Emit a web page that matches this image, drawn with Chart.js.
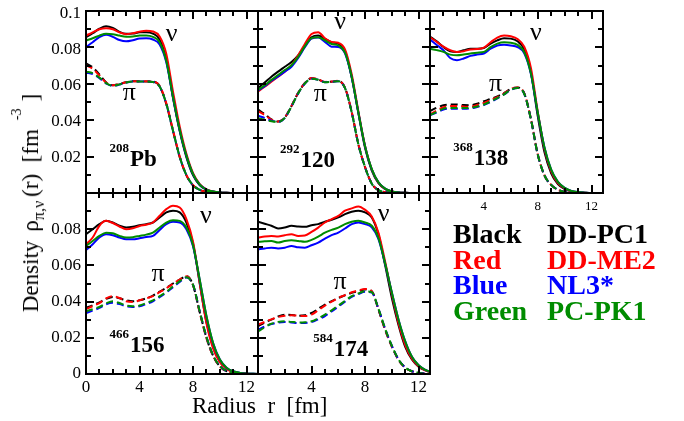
<!DOCTYPE html>
<html>
<head>
<meta charset="utf-8">
<script src="https://cdn.jsdelivr.net/npm/chart.js@4.4.0/dist/chart.umd.min.js"></script>
<style>
  html, body { margin: 0; padding: 0; background: #fff; }
  #page { position: relative; width: 684px; height: 421px; overflow: hidden;
          font-family: 'Liberation Serif', 'Times New Roman', serif; color: #000; }
  #page canvas { position: absolute; left: 0; top: 0; }
  .txt { position: absolute; white-space: pre; line-height: 1; }
  #ytitle { font-size: 23px; line-height: 23px; left: 32px; top: 203px;
            transform: translate(-50%, -50%) rotate(-90deg); }
  #ytitle .rho { margin-left: 9px; }
  #ytitle .sub { font-size: 16px; position: relative; top: 6px; }
  #ytitle .par { margin-left: 4px; }
  #ytitle .sup { font-size: 14px; position: relative; top: -17px; margin-left: 9px; }
  #ytitle .close { margin-left: 7px; }
  #xtitle { font-size: 23px; left: 192px; top: 394px; }
  .leg { font-size: 28px; font-weight: bold; line-height: 25.6px; top: 221px; }
</style>
</head>
<body>
<div id="page">
  <canvas id="pb208" width="684" height="421"></canvas>
  <canvas id="z120" width="684" height="421"></canvas>
  <canvas id="z138" width="684" height="421"></canvas>
  <canvas id="z156" width="684" height="421"></canvas>
  <canvas id="z174" width="684" height="421"></canvas>
  <canvas id="pb208-frame" width="684" height="421"></canvas>
  <canvas id="z120-frame" width="684" height="421"></canvas>
  <canvas id="z138-frame" width="684" height="421"></canvas>
  <canvas id="z156-frame" width="684" height="421"></canvas>
  <canvas id="z174-frame" width="684" height="421"></canvas>
  <div id="ytitle" class="txt">Density<span class="rho">ρ</span><span class="sub">π,ν</span><span class="par">(r)</span>  [fm<span class="sup">-3</span><span class="close">]</span></div>
  <div id="xtitle" class="txt">Radius  r  [fm]</div>
  <div class="txt leg" style="left:453px"><div style="color:#000">Black</div><div style="color:#ff0000">Red</div><div style="color:#0000ff">Blue</div><div style="color:#008c00">Green</div></div>
  <div class="txt leg" style="left:547px"><div style="color:#000">DD-PC1</div><div style="color:#ff0000">DD-ME2</div><div style="color:#0000ff">NL3*</div><div style="color:#008c00">PC-PK1</div></div>
</div>
<script>
const radius = [0, 0.5, 1, 1.5, 2, 2.5, 3, 3.5, 4, 4.5, 5, 5.5, 6, 6.5, 7, 7.5, 8, 8.5, 9, 9.5, 10, 10.5, 11, 11.5, 12, 12.5, 13];
const models = ['DD-PC1', 'DD-ME2', 'NL3*', 'PC-PK1'];
const modelColors = ['#000000', '#ff0000', '#0000ff', '#008c00'];
const xTickValues = [0, 4, 8, 12];
const xMinorValues = [0, 1, 2, 3, 4, 5, 6, 7, 8, 9, 10, 11, 12];
const yTickValues = [0, 0.02, 0.04, 0.06, 0.08, 0.1];
const yTickLabels = ['0', '0.02', '0.04', '0.06', '0.08', '0.1'];
const yMinorValues = [0, 0.01, 0.02, 0.03, 0.04, 0.05, 0.06, 0.07, 0.08, 0.09, 0.1];

// each list: DD-PC1, DD-ME2, NL3*, PC-PK1
const pb208Neutron = [
  [0.0868,0.0890,0.0915,0.0929,0.0920,0.0898,0.0887,0.0888,0.0895,0.0896,0.0888,0.0855,0.0745,0.0530,0.0345,0.0200,0.0098,0.0043,0.0018,0.0007,0.0003,0.0001,0,0,0,0,0],
  [0.0877,0.0895,0.0912,0.0918,0.0912,0.0895,0.0885,0.0890,0.0899,0.0904,0.0900,0.0872,0.0775,0.0565,0.0370,0.0218,0.0110,0.0049,0.0020,0.0008,0.0003,0.0001,0,0,0,0,0],
  [0.0813,0.0840,0.0868,0.0882,0.0870,0.0852,0.0845,0.0851,0.0861,0.0862,0.0855,0.0828,0.0728,0.0532,0.0350,0.0207,0.0104,0.0046,0.0019,0.0008,0.0003,0.0001,0,0,0,0,0],
  [0.0850,0.0862,0.0877,0.0887,0.0885,0.0877,0.0871,0.0872,0.0877,0.0878,0.0870,0.0840,0.0735,0.0535,0.0352,0.0208,0.0105,0.0047,0.0019,0.0008,0.0003,0.0001,0,0,0,0,0]
];
const pb208Proton = [
  [0.0722,0.0700,0.0660,0.0617,0.0600,0.0607,0.0617,0.0622,0.0622,0.0621,0.0620,0.0595,0.0495,0.0345,0.0200,0.0098,0.0042,0.0017,0.0007,0.0003,0.0001,0,0,0,0,0,0],
  [0.0712,0.0692,0.0655,0.0615,0.0600,0.0607,0.0617,0.0622,0.0622,0.0622,0.0621,0.0597,0.0500,0.0350,0.0204,0.0101,0.0044,0.0018,0.0007,0.0003,0.0001,0,0,0,0,0,0],
  [0.0670,0.0663,0.0640,0.0610,0.0597,0.0604,0.0615,0.0621,0.0621,0.0621,0.0619,0.0593,0.0497,0.0347,0.0202,0.0100,0.0043,0.0018,0.0007,0.0003,0.0001,0,0,0,0,0,0],
  [0.0676,0.0668,0.0643,0.0612,0.0598,0.0605,0.0616,0.0621,0.0621,0.0621,0.0619,0.0593,0.0497,0.0347,0.0202,0.0100,0.0043,0.0018,0.0007,0.0003,0.0001,0,0,0,0,0,0]
];
const z120Neutron = [
  [0.0584,0.0615,0.0648,0.0676,0.0703,0.0730,0.0767,0.0820,0.0868,0.0877,0.0859,0.0840,0.0832,0.0790,0.0645,0.0445,0.0250,0.0125,0.0055,0.0022,0.0008,0.0003,0.0001,0,0,0,0],
  [0.0566,0.0592,0.0620,0.0648,0.0676,0.0712,0.0767,0.0830,0.0886,0.0896,0.0862,0.0842,0.0837,0.0800,0.0662,0.0455,0.0262,0.0132,0.0058,0.0023,0.0009,0.0003,0.0001,0,0,0,0],
  [0.0570,0.0595,0.0625,0.0650,0.0676,0.0703,0.0752,0.0812,0.0860,0.0866,0.0842,0.0815,0.0813,0.0778,0.0645,0.0447,0.0259,0.0132,0.0060,0.0024,0.0009,0.0003,0.0001,0,0,0,0],
  [0.0575,0.0600,0.0630,0.0657,0.0685,0.0712,0.0758,0.0817,0.0863,0.0868,0.0850,0.0830,0.0822,0.0782,0.0648,0.0448,0.0260,0.0133,0.0060,0.0024,0.0009,0.0003,0.0001,0,0,0,0]
];
const z120Proton = [
  [0.0465,0.0440,0.0410,0.0398,0.0420,0.0484,0.0557,0.0612,0.0639,0.0632,0.0618,0.0620,0.0624,0.0585,0.0450,0.0270,0.0143,0.0052,0.0016,0.0005,0.0002,0.0001,0,0,0,0,0],
  [0.0456,0.0435,0.0408,0.0398,0.0421,0.0485,0.0558,0.0613,0.0640,0.0633,0.0619,0.0621,0.0625,0.0587,0.0453,0.0273,0.0145,0.0053,0.0016,0.0005,0.0002,0.0001,0,0,0,0,0],
  [0.0430,0.0418,0.0403,0.0397,0.0418,0.0482,0.0555,0.0610,0.0637,0.0631,0.0617,0.0619,0.0623,0.0584,0.0450,0.0271,0.0144,0.0052,0.0016,0.0005,0.0002,0.0001,0,0,0,0,0],
  [0.0416,0.0408,0.0400,0.0396,0.0418,0.0482,0.0555,0.0610,0.0637,0.0631,0.0617,0.0619,0.0623,0.0584,0.0450,0.0271,0.0144,0.0052,0.0016,0.0005,0.0002,0.0001,0,0,0,0,0]
];
const z138Neutron = [
  [0.0872,0.0845,0.0813,0.0790,0.0786,0.0795,0.0804,0.0804,0.0808,0.0832,0.0850,0.0862,0.0860,0.0845,0.0800,0.0670,0.0430,0.0228,0.0110,0.0050,0.0022,0.0009,0.0004,0.0001,0,0,0],
  [0.0868,0.0842,0.0815,0.0795,0.0786,0.0790,0.0800,0.0802,0.0810,0.0840,0.0866,0.0877,0.0873,0.0858,0.0815,0.0695,0.0455,0.0245,0.0120,0.0055,0.0025,0.0010,0.0004,0.0001,0,0,0],
  [0.0855,0.0825,0.0795,0.0752,0.0740,0.0749,0.0764,0.0771,0.0777,0.0804,0.0822,0.0826,0.0822,0.0813,0.0778,0.0662,0.0448,0.0254,0.0130,0.0062,0.0029,0.0012,0.0005,0.0002,0,0,0],
  [0.0804,0.0796,0.0786,0.0771,0.0767,0.0771,0.0777,0.0782,0.0786,0.0813,0.0832,0.0840,0.0837,0.0825,0.0785,0.0665,0.0450,0.0255,0.0130,0.0062,0.0029,0.0012,0.0005,0.0002,0,0,0]
];
const z138Proton = [
  [0.0456,0.0475,0.0489,0.0493,0.0493,0.0490,0.0489,0.0497,0.0511,0.0524,0.0538,0.0557,0.0580,0.0588,0.0555,0.0410,0.0215,0.0098,0.0045,0.0018,0.0006,0.0002,0.0001,0,0,0,0],
  [0.0438,0.0460,0.0478,0.0484,0.0484,0.0482,0.0480,0.0490,0.0502,0.0518,0.0534,0.0555,0.0580,0.0588,0.0556,0.0412,0.0217,0.0099,0.0045,0.0018,0.0006,0.0002,0.0001,0,0,0,0],
  [0.0434,0.0448,0.0465,0.0470,0.0470,0.0469,0.0471,0.0479,0.0490,0.0507,0.0527,0.0549,0.0574,0.0585,0.0553,0.0410,0.0216,0.0099,0.0045,0.0018,0.0006,0.0002,0.0001,0,0,0,0],
  [0.0434,0.0452,0.0470,0.0474,0.0474,0.0473,0.0474,0.0482,0.0493,0.0510,0.0529,0.0550,0.0575,0.0585,0.0553,0.0410,0.0216,0.0099,0.0045,0.0018,0.0006,0.0002,0.0001,0,0,0,0]
];
const z156Neutron = [
  [0.0772,0.0800,0.0828,0.0846,0.0837,0.0819,0.0809,0.0813,0.0822,0.0828,0.0837,0.0865,0.0893,0.0902,0.0893,0.0837,0.0720,0.0500,0.0285,0.0148,0.0068,0.0030,0.0013,0.0005,0.0002,0.0001,0],
  [0.0717,0.0754,0.0819,0.0846,0.0834,0.0815,0.0800,0.0805,0.0818,0.0825,0.0837,0.0874,0.0911,0.0930,0.0920,0.0856,0.0730,0.0500,0.0280,0.0140,0.0065,0.0028,0.0011,0.0004,0.0001,0,0],
  [0.0685,0.0717,0.0754,0.0772,0.0767,0.0754,0.0744,0.0744,0.0750,0.0757,0.0763,0.0796,0.0828,0.0841,0.0837,0.0800,0.0705,0.0518,0.0318,0.0169,0.0080,0.0035,0.0015,0.0006,0.0002,0.0001,0],
  [0.0707,0.0735,0.0763,0.0781,0.0778,0.0763,0.0754,0.0756,0.0763,0.0770,0.0781,0.0809,0.0837,0.0850,0.0846,0.0809,0.0710,0.0520,0.0320,0.0170,0.0080,0.0035,0.0015,0.0006,0.0002,0.0001,0]
];
const z156Proton = [
  [0.0365,0.0380,0.0396,0.0415,0.0426,0.0418,0.0407,0.0402,0.0407,0.0418,0.0433,0.0455,0.0476,0.0500,0.0522,0.0540,0.0490,0.0340,0.0200,0.0100,0.0042,0.0016,0.0006,0.0002,0.0001,0,0],
  [0.0359,0.0375,0.0392,0.0418,0.0430,0.0420,0.0402,0.0398,0.0407,0.0418,0.0430,0.0452,0.0474,0.0498,0.0522,0.0540,0.0490,0.0338,0.0198,0.0099,0.0041,0.0016,0.0006,0.0002,0.0001,0,0],
  [0.0337,0.0350,0.0365,0.0385,0.0393,0.0386,0.0374,0.0370,0.0374,0.0387,0.0402,0.0425,0.0450,0.0480,0.0508,0.0533,0.0492,0.0345,0.0205,0.0103,0.0044,0.0017,0.0006,0.0002,0.0001,0,0],
  [0.0346,0.0358,0.0370,0.0390,0.0402,0.0392,0.0378,0.0374,0.0378,0.0392,0.0407,0.0430,0.0454,0.0484,0.0513,0.0535,0.0492,0.0345,0.0205,0.0103,0.0044,0.0017,0.0006,0.0002,0.0001,0,0]
];
const z174Neutron = [
  [0.0841,0.0830,0.0819,0.0804,0.0809,0.0819,0.0815,0.0813,0.0822,0.0828,0.0841,0.0852,0.0865,0.0883,0.0896,0.0902,0.0893,0.0865,0.0770,0.0600,0.0420,0.0270,0.0150,0.0080,0.0040,0.0020,0.0010],
  [0.0754,0.0760,0.0763,0.0760,0.0767,0.0772,0.0763,0.0765,0.0785,0.0809,0.0837,0.0856,0.0874,0.0902,0.0915,0.0926,0.0907,0.0870,0.0780,0.0620,0.0440,0.0280,0.0160,0.0085,0.0042,0.0020,0.0010],
  [0.0689,0.0694,0.0698,0.0694,0.0698,0.0707,0.0700,0.0698,0.0711,0.0726,0.0748,0.0767,0.0781,0.0804,0.0828,0.0837,0.0828,0.0810,0.0745,0.0608,0.0450,0.0300,0.0180,0.0095,0.0048,0.0023,0.0011],
  [0.0730,0.0733,0.0735,0.0726,0.0735,0.0739,0.0735,0.0730,0.0741,0.0759,0.0781,0.0796,0.0809,0.0828,0.0841,0.0846,0.0837,0.0819,0.0750,0.0610,0.0450,0.0300,0.0180,0.0095,0.0048,0.0023,0.0011]
];
const z174Proton = [
  [0.0263,0.0285,0.0300,0.0318,0.0328,0.0326,0.0322,0.0325,0.0337,0.0360,0.0383,0.0403,0.0420,0.0435,0.0448,0.0458,0.0467,0.0457,0.0356,0.0244,0.0152,0.0078,0.0035,0.0015,0.0006,0.0002,0.0001],
  [0.0272,0.0288,0.0302,0.0315,0.0322,0.0324,0.0322,0.0320,0.0328,0.0352,0.0378,0.0400,0.0420,0.0436,0.0452,0.0462,0.0470,0.0458,0.0356,0.0244,0.0152,0.0078,0.0035,0.0015,0.0006,0.0002,0.0001],
  [0.0244,0.0262,0.0276,0.0284,0.0287,0.0285,0.0282,0.0282,0.0287,0.0302,0.0320,0.0346,0.0372,0.0400,0.0426,0.0442,0.0454,0.0450,0.0360,0.0250,0.0156,0.0080,0.0036,0.0015,0.0006,0.0002,0.0001],
  [0.0235,0.0258,0.0278,0.0288,0.0291,0.0288,0.0285,0.0286,0.0291,0.0308,0.0328,0.0352,0.0378,0.0404,0.0430,0.0445,0.0457,0.0452,0.0360,0.0250,0.0156,0.0080,0.0036,0.0015,0.0006,0.0002,0.0001]
];

const FONT = "'Liberation Serif', 'Times New Roman', serif";
const X_MAX = 12.85;
const Y_AXIS_W = 60;   // room kept for y tick labels (labels are clipped to the axis box)
const X_AXIS_H = 30;

// panel layout: box = [left, top, right, bottom] of the plot frame in page pixels
const panels = [
  { id: 'pb208', box: [86, 11, 258, 193], neutron: pb208Neutron, proton: pb208Proton,
    mass: '208', name: 'Pb', nameAt: [1.76, 0.0150], nuAt: [6.4, 0.0849], piAt: [3.24, 0.0516],
    yShown: [1, 2, 3, 4, 5], xShown: [], xFont: 17, xPad: 5 },
  { id: 'z120', box: [258, 11, 430, 193], neutron: z120Neutron, proton: z120Proton,
    mass: '292', name: '120', nameAt: [1.65, 0.0145], nuAt: [6.14, 0.0914], piAt: [4.66, 0.0511],
    yShown: [], xShown: [], xFont: 17, xPad: 5 },
  { id: 'z138', box: [430, 11, 603, 193], neutron: z138Neutron, proton: z138Proton,
    mass: '368', name: '138', nameAt: [1.72, 0.0158], nuAt: [7.87, 0.0850], piAt: [4.87, 0.0570],
    yShown: [], xShown: [4, 8, 12], xFont: 13, xPad: 7 },
  { id: 'z156', box: [86, 193, 258, 374], neutron: z156Neutron, proton: z156Proton,
    mass: '466', name: '156', nameAt: [1.76, 0.0124], nuAt: [8.95, 0.0837], piAt: [5.38, 0.0513],
    yShown: [0, 1, 2, 3, 4], xShown: [0, 4, 8, 12], xFont: 17, xPad: 5 },
  { id: 'z174', box: [258, 193, 430, 374], neutron: z174Neutron, proton: z174Proton,
    mass: '584', name: '174', nameAt: [4.12, 0.0100], nuAt: [9.38, 0.0846], piAt: [6.14, 0.0467],
    yShown: [], xShown: [4, 8, 12], xFont: 17, xPad: 5 }
];
const panelById = {};
panels.forEach(p => { panelById[p.id] = p; });

// ν, π and nucleus labels, placed in data units
const panelLabels = {
  id: 'panelLabels',
  afterDraw(chart) {
    const p = panelById[chart.canvas.id];
    const ctx = chart.ctx;
    const x = chart.scales.x, y = chart.scales.y;
    ctx.save();
    ctx.fillStyle = '#000000';
    ctx.textBaseline = 'alphabetic';
    ctx.textAlign = 'center';
    ctx.font = '26px ' + FONT;
    ctx.fillText('ν', x.getPixelForValue(p.nuAt[0]), y.getPixelForValue(p.nuAt[1]));
    ctx.fillText('π', x.getPixelForValue(p.piAt[0]), y.getPixelForValue(p.piAt[1]));
    ctx.textAlign = 'left';
    const nx = x.getPixelForValue(p.nameAt[0]);
    const ny = y.getPixelForValue(p.nameAt[1]);
    ctx.font = 'bold 13px ' + FONT;
    ctx.fillText(p.mass, nx, ny - 14);
    const w = ctx.measureText(p.mass).width;
    ctx.font = 'bold 23px ' + FONT;
    ctx.fillText(p.name, nx + w + 1, ny);
    ctx.restore();
  }
};

// frame with inward ticks on all four sides, drawn by an overlay chart per panel
const panelFrame = {
  id: 'panelFrame',
  afterDraw(chart) {
    const ctx = chart.ctx;
    const a = chart.chartArea;
    const x = chart.scales.x, y = chart.scales.y;
    ctx.save();
    ctx.fillStyle = '#000000';
    xMinorValues.forEach(v => {
      const px = Math.round(x.getPixelForValue(v));
      const len = xTickValues.includes(v) ? 8 : 5;
      ctx.fillRect(px - 1, a.bottom - len, 2, len);
      ctx.fillRect(px - 1, a.top, 2, len);
    });
    yMinorValues.forEach((v, k) => {
      const py = Math.round(y.getPixelForValue(v));
      const len = k % 2 === 0 ? 8 : 5;
      ctx.fillRect(a.left, py - 1, len, 2);
      ctx.fillRect(a.right - len, py - 1, len, 2);
    });
    ctx.strokeStyle = '#000000';
    ctx.lineWidth = 2;
    ctx.strokeRect(a.left, a.top, a.right - a.left, a.bottom - a.top);
    ctx.restore();
  }
};

function makeSeries(values) {
  return radius.map((r, i) => ({ x: r, y: values[i] }));
}

panels.forEach(p => {
  const datasets = [];
  models.forEach((m, i) => {
    datasets.push({
      label: m + ' neutrons', data: makeSeries(p.neutron[i]),
      borderColor: modelColors[i], borderWidth: 2, pointRadius: 0,
      cubicInterpolationMode: 'monotone', order: 4 - i
    });
    datasets.push({
      label: m + ' protons', data: makeSeries(p.proton[i]),
      borderColor: modelColors[i], borderWidth: 2, borderDash: [7, 4], pointRadius: 0,
      cubicInterpolationMode: 'monotone', order: 4 - i
    });
  });

  const padding = {
    left: p.box[0] - Y_AXIS_W, top: p.box[1],
    right: 684 - p.box[2], bottom: 421 - p.box[3] - X_AXIS_H
  };

  new Chart(document.getElementById(p.id), {
    type: 'line',
    data: { datasets },
    options: {
      responsive: false,
      animation: false,
      events: [],
      layout: { padding },
      plugins: { legend: { display: false }, tooltip: { enabled: false } },
      scales: {
        x: {
          type: 'linear', min: 0, max: X_MAX,
          grid: { display: false, drawTicks: false }, border: { display: false },
          afterFit: s => { s.height = X_AXIS_H; },
          afterBuildTicks: s => { s.ticks = xTickValues.map(v => ({ value: v })); },
          ticks: {
            autoSkip: false, maxRotation: 0, padding: p.xPad, color: '#000',
            font: { family: FONT, size: p.xFont, lineHeight: 1 },
            callback: v => p.xShown.includes(v) ? String(v) : ''
          }
        },
        y: {
          type: 'linear', min: 0, max: 0.1,
          grid: { display: false, drawTicks: false }, border: { display: false },
          afterFit: s => { s.width = Y_AXIS_W; },
          afterBuildTicks: s => { s.ticks = yTickValues.map(v => ({ value: v })); },
          ticks: {
            autoSkip: false, padding: 5, color: '#000',
            font: { family: FONT, size: 17, lineHeight: 1 },
            callback: (v, i) => p.yShown.includes(i) ? yTickLabels[i] : ''
          }
        }
      }
    },
    plugins: [panelLabels]
  });

  // overlay: same scales, no labels, only the frame and ticks
  new Chart(document.getElementById(p.id + '-frame'), {
    type: 'line',
    data: { datasets: [] },
    options: {
      responsive: false,
      animation: false,
      events: [],
      layout: { padding },
      plugins: { legend: { display: false }, tooltip: { enabled: false } },
      scales: {
        x: {
          type: 'linear', min: 0, max: X_MAX,
          grid: { display: false, drawTicks: false }, border: { display: false },
          afterFit: s => { s.height = X_AXIS_H; },
          ticks: { callback: () => '' }
        },
        y: {
          type: 'linear', min: 0, max: 0.1,
          grid: { display: false, drawTicks: false }, border: { display: false },
          afterFit: s => { s.width = Y_AXIS_W; },
          ticks: { callback: () => '' }
        }
      }
    },
    plugins: [panelFrame]
  });
});
</script>
</body>
</html>
